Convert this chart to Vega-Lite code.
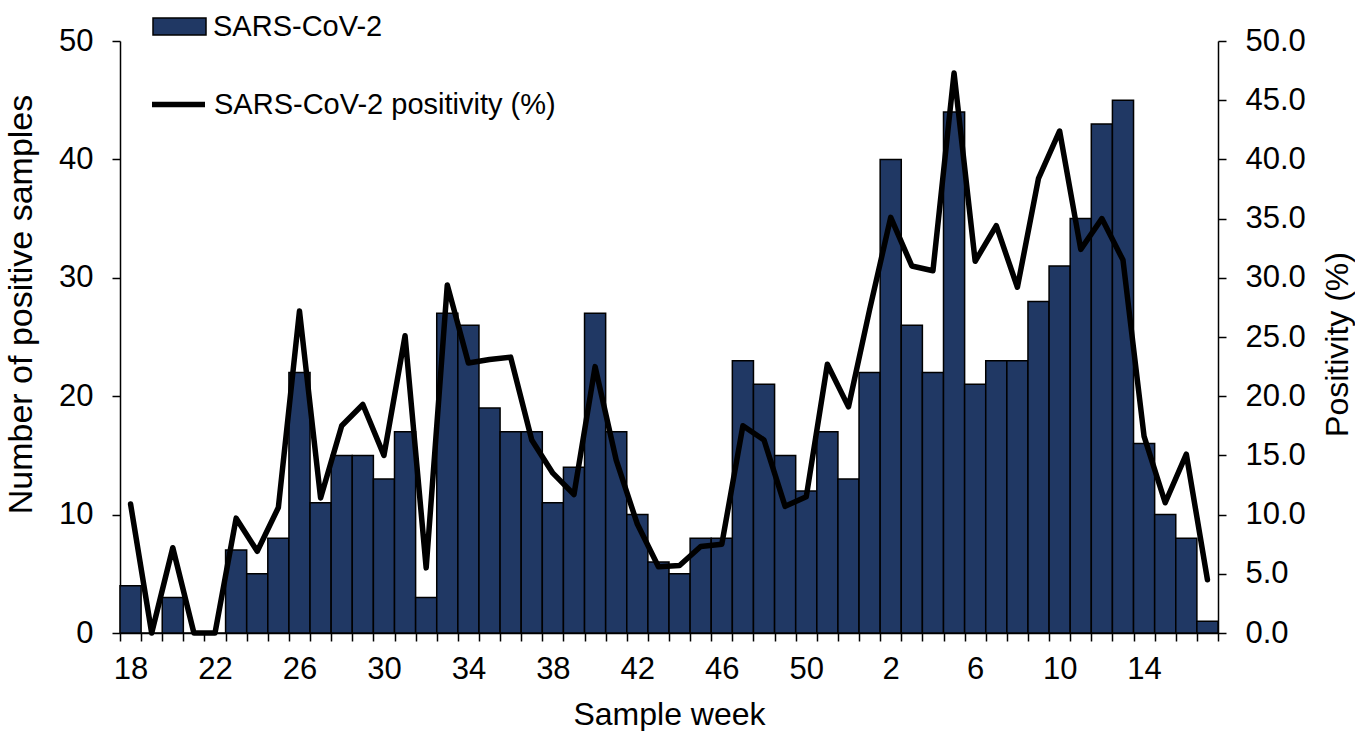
{
  "$schema": "https://vega.github.io/schema/vega-lite/v6.json",
  "width": 1098,
  "height": 592,
  "autosize": {"type": "none"},
  "padding": {"left": 120, "top": 41, "right": 137, "bottom": 98},
  "background": "white",
  "config": {
    "view": {"stroke": null},
    "font": "Liberation Sans",
    "axis": {
      "grid": false,
      "domainColor": "black",
      "tickColor": "black",
      "labelColor": "black",
      "titleColor": "black",
      "labelFont": "Liberation Sans",
      "titleFont": "Liberation Sans",
      "labelFontSize": 31,
      "titleFontSize": 32,
      "titleFontWeight": "normal",
      "domainWidth": 1.5,
      "tickWidth": 1.5,
      "tickSize": 8
    },
    "legend": {
      "labelFont": "Liberation Sans",
      "labelFontSize": 29,
      "labelColor": "black",
      "labelLimit": 0,
      "padding": 0
    }
  },
  "data": {
    "values": [
      {"week": "18", "positive": 4, "positivity": 10.9},
      {"week": "19", "positive": 0, "positivity": 0},
      {"week": "20", "positive": 3, "positivity": 7.2},
      {"week": "21", "positive": 0, "positivity": 0},
      {"week": "22", "positive": 0, "positivity": 0},
      {"week": "23", "positive": 7, "positivity": 9.7},
      {"week": "24", "positive": 5, "positivity": 6.9},
      {"week": "25", "positive": 8, "positivity": 10.6},
      {"week": "26", "positive": 22, "positivity": 27.2},
      {"week": "27", "positive": 11, "positivity": 11.4},
      {"week": "28", "positive": 15, "positivity": 17.5},
      {"week": "29", "positive": 15, "positivity": 19.3},
      {"week": "30", "positive": 13, "positivity": 15.0},
      {"week": "31", "positive": 17, "positivity": 25.1},
      {"week": "32", "positive": 3, "positivity": 5.5},
      {"week": "33", "positive": 27, "positivity": 29.4},
      {"week": "34", "positive": 26, "positivity": 22.8},
      {"week": "35", "positive": 19, "positivity": 23.1},
      {"week": "36", "positive": 17, "positivity": 23.3},
      {"week": "37", "positive": 17, "positivity": 16.3},
      {"week": "38", "positive": 11, "positivity": 13.5},
      {"week": "39", "positive": 14, "positivity": 11.7},
      {"week": "40", "positive": 27, "positivity": 22.5},
      {"week": "41", "positive": 17, "positivity": 14.6},
      {"week": "42", "positive": 10, "positivity": 9.2},
      {"week": "43", "positive": 6, "positivity": 5.6},
      {"week": "44", "positive": 5, "positivity": 5.7},
      {"week": "45", "positive": 8, "positivity": 7.3},
      {"week": "46", "positive": 8, "positivity": 7.5},
      {"week": "47", "positive": 23, "positivity": 17.5},
      {"week": "48", "positive": 21, "positivity": 16.3},
      {"week": "49", "positive": 15, "positivity": 10.7},
      {"week": "50", "positive": 12, "positivity": 11.5},
      {"week": "51", "positive": 17, "positivity": 22.7},
      {"week": "52", "positive": 13, "positivity": 19.1},
      {"week": "1", "positive": 22, "positivity": 27.3},
      {"week": "2", "positive": 40, "positivity": 35.1},
      {"week": "3", "positive": 26, "positivity": 31.0},
      {"week": "4", "positive": 22, "positivity": 30.6},
      {"week": "5", "positive": 44, "positivity": 47.3},
      {"week": "6", "positive": 21, "positivity": 31.4},
      {"week": "7", "positive": 23, "positivity": 34.4},
      {"week": "8", "positive": 23, "positivity": 29.2},
      {"week": "9", "positive": 28, "positivity": 38.4},
      {"week": "10", "positive": 31, "positivity": 42.4},
      {"week": "11", "positive": 35, "positivity": 32.4},
      {"week": "12", "positive": 43, "positivity": 35.0},
      {"week": "13", "positive": 45, "positivity": 31.5},
      {"week": "14", "positive": 16, "positivity": 16.6},
      {"week": "15", "positive": 10, "positivity": 11.0},
      {"week": "16", "positive": 8, "positivity": 15.1},
      {"week": "17", "positive": 1, "positivity": 4.5}
    ]
  },
  "layer": [
    {
      "mark": {"type": "bar", "stroke": "black", "strokeWidth": 1.5},
      "encoding": {
        "x": {
          "field": "week",
          "type": "nominal",
          "sort": null,
          "scale": {"paddingInner": 0, "paddingOuter": 0},
          "axis": {
            "title": "Sample week",
            "labelAngle": 0,
            "tickBand": "extent",
            "labelOverlap": false,
            "labelExpr": "indexof(['18','22','26','30','34','38','42','46','50','2','6','10','14'], datum.label) >= 0 ? datum.label : ''",
            "labelPadding": 13,
            "titlePadding": 15
          }
        },
        "y": {
          "field": "positive",
          "type": "quantitative",
          "scale": {"domain": [0, 50]},
          "axis": {
            "title": "Number of positive samples",
            "titleFontSize": 34,
            "titleY": 263,
            "values": [0, 10, 20, 30, 40, 50],
            "labelPadding": 19,
            "titlePadding": 20
          }
        },
        "fill": {
          "datum": "SARS-CoV-2",
          "type": "nominal",
          "scale": {"range": ["#203864"]},
          "legend": {
            "title": null,
            "orient": "none",
            "legendX": 32,
            "legendY": -42,
            "symbolType": "M-1,-0.32H1V0.32H-1Z",
            "symbolSize": 2809,
            "symbolStrokeColor": "black",
            "symbolStrokeWidth": 1.5,
            "symbolOpacity": 1,
            "labelOffset": 6
          }
        }
      }
    },
    {
      "mark": {"type": "line", "strokeWidth": 5.5, "strokeJoin": "round", "strokeCap": "round"},
      "encoding": {
        "x": {"field": "week", "type": "nominal", "sort": null},
        "y": {
          "field": "positivity",
          "type": "quantitative",
          "scale": {"domain": [0, 50]},
          "axis": {
            "orient": "right",
            "title": "Positivity (%)",
            "titleAngle": 270,
            "titleX": 119,
            "titleY": 303,
            "titleAlign": "center",
            "titleBaseline": "middle",
            "format": ".1f",
            "values": [0, 5, 10, 15, 20, 25, 30, 35, 40, 45, 50],
            "labelPadding": 19
          }
        },
        "stroke": {
          "datum": "SARS-CoV-2 positivity (%)",
          "type": "nominal",
          "scale": {"range": ["black"]},
          "legend": {
            "title": null,
            "orient": "none",
            "legendX": 29,
            "legendY": 34,
            "symbolType": "stroke",
            "symbolSize": 2809,
            "symbolStrokeWidth": 5.5,
            "labelOffset": 6
          }
        }
      }
    }
  ],
  "resolve": {"scale": {"y": "independent"}}
}
